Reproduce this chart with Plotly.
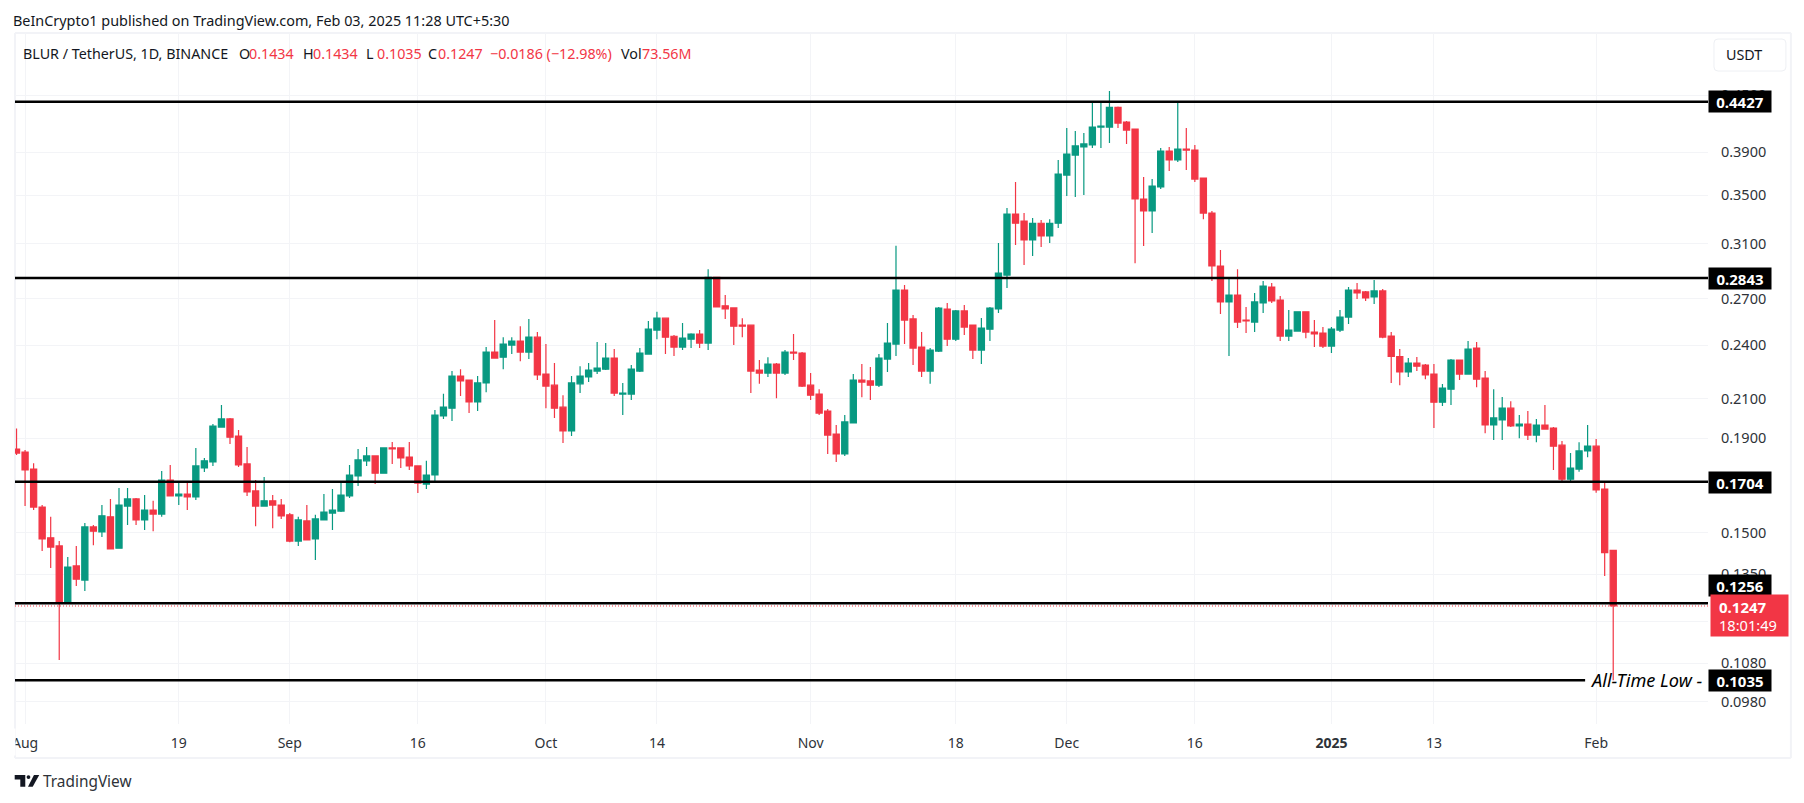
import pandas as pd
import plotly.graph_objects as go

first_day = "2024-07-31"
opens = [.1850,
 .1836,.1759,.1599,.1480,.1450,.1257,.1379,.1331,.1521,.1502,.1560,.1442,.1603,.1632,.1548,.1587,.1571,.1711,.1644,.1652,.1640,.1764,.1791,.1955,.1995,.1911,.1782,.1665,.1603,.1624,.1607,
 .1568,.1468,.1544,.1476,.1548,.1575,.1583,.1644,.1729,.1796,.1818,.1741,.1855,.1855,.1813,.1773,.1694,.1733,.2010,.2050,.2222,.2200,.2082,.2184,.2360,.2330,.2402,.2426,.2360,.2450,
 .2233,.2172,.2055,.1936,.2179,.2217,.2250,.2261,.2325,.2124,.2124,.2250,.2348,.2494,.2570,.2456,.2390,.2438,.2469,.2414,.2847,.2651,.2637,.2525,.2525,.2256,.2239,.2290,.2239,.2360,.2354,
 .2172,.2124,.2035,.1921,.1827,.1975,.2200,.2195,.2172,.2319,.2408,.2758,.2565,.2390,.2250,.2366,.2630,.2438,.2617,.2526,.2372,.2500,.2630,.2864,.3338,.3280,.3128,.3262,.3160,.3262,
 .3682,.3872,.3952,.3972,.4154,.4154,.4365,.4207,.4133,.3467,.3365,.3573,.3911,.3824,.3931,.3921,.3655,.3347,.2930,.2677,.2724,.2558,.2545,.2670,.2779,.2690,.2457,.2488,.2611,.2482,.2476,
 .2396,.2494,.2577,.2758,.2745,.2711,.2752,.2457,.2334,.2245,.2296,.2284,.2233,.2081,.2150,.2313,.2233,.2384,.2211,.1965,.1990,.2050,.1960,.1970,.1916,.1965,.1950,.1868,.1715,.1759,.1841,
 .1863,.1673,.1434]
highs = [.1948,
 .1845,.1785,.1607,.1560,.1468,.1410,.1450,.1536,.1528,.1607,.1632,.1677,.1677,.1636,.1648,.1624,.1751,.1777,.1703,.1707,.1855,.1809,.1970,.2066,.2000,.1940,.1859,.1711,.1724,.1648,.1632,
 .1575,.1560,.1607,.1568,.1652,.1673,.1703,.1777,.1850,.1859,.1818,.1855,.1883,.1855,.1883,.1773,.1796,.2040,.2125,.2250,.2261,.2200,.2222,.2390,.2558,.2450,.2450,.2519,.2564,.2482,
 .2408,.2296,.2118,.2222,.2278,.2296,.2420,.2414,.2378,.2184,.2284,.2384,.2552,.2611,.2570,.2463,.2539,.2475,.2494,.2907,.2847,.2724,.2637,.2570,.2525,.2313,.2330,.2296,.2372,.2469,.2360,
 .2239,.2150,.2045,.1965,.2015,.2233,.2290,.2273,.2348,.2539,.3082,.2793,.2590,.2482,.2384,.2643,.2670,.2623,.2656,.2526,.2571,.2643,.3105,.3390,.3618,.3347,.3305,.3288,.3296,.3824,
 .4144,.4113,.4092,.4434,.4423,.4548,.4375,.4217,.4133,.3664,.3645,.3941,.3951,.4423,.4144,.3972,.3655,.3365,.3050,.2835,.2907,.2643,.2738,.2821,.2807,.2717,.2623,.2611,.2611,.2558,.2513,
 .2513,.2623,.2779,.2807,.2752,.2828,.2765,.2482,.2378,.2325,.2331,.2290,.2290,.2178,.2319,.2313,.2426,.2420,.2250,.2150,.2108,.2086,.2015,.2035,.1995,.2066,.1955,.1887,.1832,.1882,.1965,
 .1897,.1707,.1434]
lows = [.1822,
 .1603,.1587,.1432,.1372,.1089,.1257,.1311,.1295,.1453,.1483,.1439,.1442,.1528,.1528,.1509,.1505,.1560,.1644,.1607,.1587,.1628,.1746,.1773,.1955,.1873,.1768,.1644,.1524,.1603,.1516,.1552,
 .1464,.1450,.1472,.1400,.1548,.1509,.1579,.1636,.1686,.1773,.1694,.1741,.1782,.1764,.1755,.1656,.1673,.1698,.1995,.1985,.2114,.2025,.2035,.2134,.2325,.2261,.2348,.2307,.2319,.2200,
 .2050,.2000,.1878,.1911,.2129,.2189,.2233,.2256,.2113,.2015,.2092,.2245,.2348,.2438,.2348,.2337,.2372,.2384,.2384,.2372,.2644,.2564,.2402,.2450,.2129,.2179,.2217,.2102,.2228,.2313,.2162,
 .2092,.2015,.1827,.1790,.1818,.1975,.2107,.2092,.2162,.2245,.2337,.2408,.2284,.2217,.2180,.2360,.2396,.2426,.2463,.2319,.2290,.2426,.2604,.2772,.3089,.2937,.3004,.3073,.3105,.3223,
 .3493,.3484,.3502,.3941,.3941,.3990,.4144,.3982,.2950,.3080,.3183,.3555,.3720,.3805,.3729,.3618,.3296,.2821,.2597,.2337,.2507,.2476,.2482,.2604,.2670,.2426,.2426,.2488,.2444,.2390,.2384,
 .2354,.2482,.2533,.2697,.2684,.2663,.2444,.2183,.2172,.2217,.2250,.2205,.1950,.2061,.2066,.2200,.2233,.2161,.1925,.1892,.1892,.1955,.1901,.1892,.1882,.1945,.1755,.1703,.1707,.1747,.1812,
 .1657,.1345,.1035]
closes = [.1831,
 .1755,.1599,.1476,.1446,.1257,.1375,.1334,.1521,.1505,.1564,.1439,.1607,.1632,.1548,.1587,.1571,.1711,.1644,.1652,.1640,.1773,.1796,.1960,.1995,.1906,.1777,.1661,.1603,.1624,.1607,.1564,
 .1468,.1548,.1472,.1552,.1579,.1587,.1648,.1733,.1800,.1818,.1741,.1855,.1850,.1809,.1773,.1698,.1733,.2015,.2055,.2222,.2195,.2082,.2184,.2360,.2325,.2408,.2426,.2360,.2450,.2228,
 .2167,.2050,.1936,.2184,.2222,.2256,.2267,.2325,.2129,.2129,.2261,.2354,.2500,.2570,.2450,.2390,.2444,.2469,.2414,.2847,.2644,.2630,.2519,.2519,.2250,.2239,.2290,.2239,.2360,.2354,.2167,
 .2118,.2025,.1916,.1827,.1980,.2200,.2189,.2172,.2325,.2414,.2758,.2558,.2384,.2250,.2372,.2636,.2438,.2617,.2513,.2372,.2507,.2636,.2878,.3338,.3262,.3128,.3262,.3160,.3262,.3691,
 .3881,.3962,.3982,.4154,.4164,.4365,.4196,.4123,.3467,.3365,.3582,.3911,.3824,.3931,.3921,.3645,.3347,.2930,.2677,.2724,.2545,.2552,.2677,.2786,.2684,.2457,.2494,.2611,.2482,.2470,.2396,
 .2500,.2577,.2758,.2738,.2704,.2752,.2451,.2334,.2245,.2296,.2278,.2228,.2081,.2156,.2313,.2233,.2378,.2205,.1965,.2000,.2050,.1960,.1970,.1916,.1965,.1945,.1863,.1715,.1763,.1841,.1863,
 .1669,.1426,.1247]

price_ticks = [.45, .39, .35, .31, .27, .24, .21, .19, .15, .135, .12, .108, .098]
price_tick_text = ["0.4500", "0.3900", "0.3500", "0.3100", "0.2700", "0.2400", "0.2100", "0.1900",
                   "0.1500", "0.1350", "0.1200", "0.1080", "0.0980"]
date_ticks = ["2024-08-01", "2024-08-19", "2024-09-01", "2024-09-16", "2024-10-01", "2024-10-14", "2024-11-01",
              "2024-11-18", "2024-12-01", "2024-12-16", "2025-01-01", "2025-01-13", "2025-02-01"]
date_tick_text = ["Aug", "19", "Sep", "16", "Oct", "14", "Nov", "18", "Dec", "16", "<b>2025</b>", "13", "Feb"]
levels = [.4427, .2843, .1704, .1256]
level_labels = ["0.4427", "0.2843", "0.1704", "0.1256"]
atl_level = .1035
last_close = .1247
view_start, view_end = "2024-07-30 19:41", "2025-02-14 02:24"
atl_line_end = "2025-01-30 17:00"

WIDTH, HEIGHT = 1804, 803
L, R, T, B = 13, 96, 33, 79
PW, PH = WIDTH - L - R, HEIGHT - T - B
def px(x): return (x - L) / PW
def py(y): return 1 - (y - T) / PH

GREEN, RED, INK = "#089981", "#f23645", "#131722"
FONT = "Noto Sans"
dates = pd.date_range(first_day, periods=len(closes), freq="D")
assert len(opens) == len(highs) == len(lows) == len(closes) == 188

fig = go.Figure()
for lv in levels:
    fig.add_trace(go.Scatter(x=[view_start, view_end], y=[lv, lv], mode="lines", hoverinfo="skip",
                             showlegend=False, line=dict(color="#000000", width=2.5)))
fig.add_trace(go.Scatter(x=[view_start, atl_line_end], y=[atl_level, atl_level], mode="lines", hoverinfo="skip",
                         showlegend=False, line=dict(color="#000000", width=2.5)))
fig.add_trace(go.Scatter(x=[view_start, view_end], y=[last_close, last_close], mode="lines", hoverinfo="skip",
                         showlegend=False, line=dict(color=RED, width=1, dash="1px,2px")))
fig.add_trace(go.Candlestick(x=dates, open=opens, high=highs, low=lows, close=closes, whiskerwidth=0,
                             showlegend=False, hoverinfo="skip",
                             increasing=dict(line=dict(color=GREEN, width=1.2), fillcolor=GREEN),
                             decreasing=dict(line=dict(color=RED, width=1.2), fillcolor=RED)))

anns, shapes = [], []
LEFT_PAD = 4
def text(x, y, s, size=14, color=INK, anchor="left", **kw):
    x = x - LEFT_PAD if anchor == "left" else x
    anns.append(dict(x=px(x), y=py(y), xref="paper", yref="paper", text=s, showarrow=False, xanchor=anchor,
                     yanchor="middle", font=dict(family=FONT, size=size, color=color), **kw))

# header + legend
text(13, 20, "BeInCrypto1 published on TradingView.com, Feb 03, 2025 11:28 UTC+5:30", 14.4)
text(23, 53, "BLUR / TetherUS, 1D, BINANCE", 14.3)
for x, lab, val in [(239, "O", "0.1434"), (303, "H", "0.1434"), (366.5, "L", "0.1035"), (428, "C", "0.1247")]:
    text(x, 53, lab, 14.3)
    text(x + 10.5, 53, val, 14.3, RED)
text(491, 53, "−0.0186 (−12.98%)", 14.3, RED)
text(622, 53, "Vol", 14.3)
text(643, 53, "73.56M", 14.3, RED)

# USDT button
shapes.append(dict(type="path", xref="paper", yref="paper", line=dict(color="#eef0f4", width=1), fillcolor="#ffffff", layer="above",
    path=f"M{px(1718)},{py(39)} L{px(1782)},{py(39)} Q{px(1786)},{py(39)} {px(1786)},{py(43)} L{px(1786)},{py(67)} Q{px(1786)},{py(71)} {px(1782)},{py(71)} "
         f"L{px(1718)},{py(71)} Q{px(1714)},{py(71)} {px(1714)},{py(67)} L{px(1714)},{py(43)} Q{px(1714)},{py(39)} {px(1718)},{py(39)} Z"))
text(1744, 55, "USDT", 14.3, anchor="center")

# frame
for x0, y0, x1, y1 in [(13, 33, 1791, 33), (13, 758, 1791, 758), (13, 33, 13, 758), (1791, 33, 1791, 758)]:
    shapes.append(dict(type="line", xref="paper", yref="paper", x0=px(x0), y0=py(y0), x1=px(x1), y1=py(y1),
                       line=dict(color="#f2f3f7", width=2), layer="below"))

# labels on the price scale
for y, lab in zip([102, 278, 482.5, 585.5, 680.5], level_labels + ["0.1035"]):
    text(1740, y, f"<b>{lab}</b>", 15, "#ffffff", "center", width=62, height=21, bgcolor="#000000", borderpad=0)
anns.append(dict(x=px(1710 - LEFT_PAD + 4), y=py(615.5), xref="paper", yref="paper", xanchor="left", yanchor="middle", showarrow=False,
                 width=75, height=39, bgcolor=RED, text=" ", font=dict(size=8)))
text(1721, 606.5, "<b>0.1247</b>", 15, "#ffffff")
text(1721, 624.5, "18:01:49", 14.6, "#ffffff")
text(1592, 679.5, "<i>All-Time Low -</i>", 18.2, "#000000")
# the scale's frame clips the first month label at the chart's left edge
anns.append(dict(x=px(6), y=py(742), xref="paper", yref="paper", xanchor="center", yanchor="middle", showarrow=False,
                 width=12, height=24, bgcolor="#ffffff", text=" ", font=dict(size=8)))

# footer logo and wordmark
shapes += [
    dict(type="path", xref="paper", yref="paper", fillcolor="#131722", line=dict(width=0), layer="above",
         path=f"M{px(12.7)},{py(775)} L{px(23.3)},{py(775)} L{px(23.3)},{py(786.7)} L{px(18.3)},{py(786.7)} L{px(18.3)},{py(779.5)} L{px(12.7)},{py(779.5)} Z"),
    dict(type="circle", xref="paper", yref="paper", fillcolor="#131722", line=dict(width=0), layer="above",
         x0=px(24.6), x1=px(28.4), y0=py(775.2), y1=py(779)),
    dict(type="path", xref="paper", yref="paper", fillcolor="#131722", line=dict(width=0), layer="above",
         path=f"M{px(32)},{py(775)} L{px(37.3)},{py(775)} L{px(30.7)},{py(786.7)} L{px(26)},{py(786.7)} Z"),
]
text(43, 781, "TradingView", 15.4, "#2e3238")

fig.update_layout(
    width=WIDTH, height=HEIGHT, margin=dict(l=L, r=R, t=T, b=B, pad=0),
    paper_bgcolor="#ffffff", plot_bgcolor="#ffffff", boxgap=0.28, boxgroupgap=0, showlegend=False, dragmode=False,
    font=dict(family=FONT, size=14, color=INK), annotations=anns, shapes=shapes,
    xaxis=dict(type="date", range=[view_start, view_end], rangeslider=dict(visible=False), tickmode="array",
               tickvals=date_ticks, ticktext=date_tick_text, tickangle=0, showgrid=True, gridcolor="#f3f4f7", gridwidth=1,
               zeroline=False, showline=False, ticks="outside", ticklen=6, tickcolor="rgba(0,0,0,0)",
               tickfont=dict(family=FONT, size=14, color="#2e3238")),
    yaxis=dict(type="log", side="right", range=[-1.0329, -0.2789], tickmode="array", tickvals=price_ticks,
               ticktext=price_tick_text, showgrid=True, gridcolor="#f3f4f7", gridwidth=1, zeroline=False, showline=False,
               ticks="outside", ticklen=9, tickcolor="rgba(0,0,0,0)", tickfont=dict(family=FONT, size=14.5, color="#2e3238")),
)
fig.write_html("out.html", config=dict(displayModeBar=False, staticPlot=True),
               post_script="document.body.style.margin='0';document.documentElement.style.overflow='hidden';")
